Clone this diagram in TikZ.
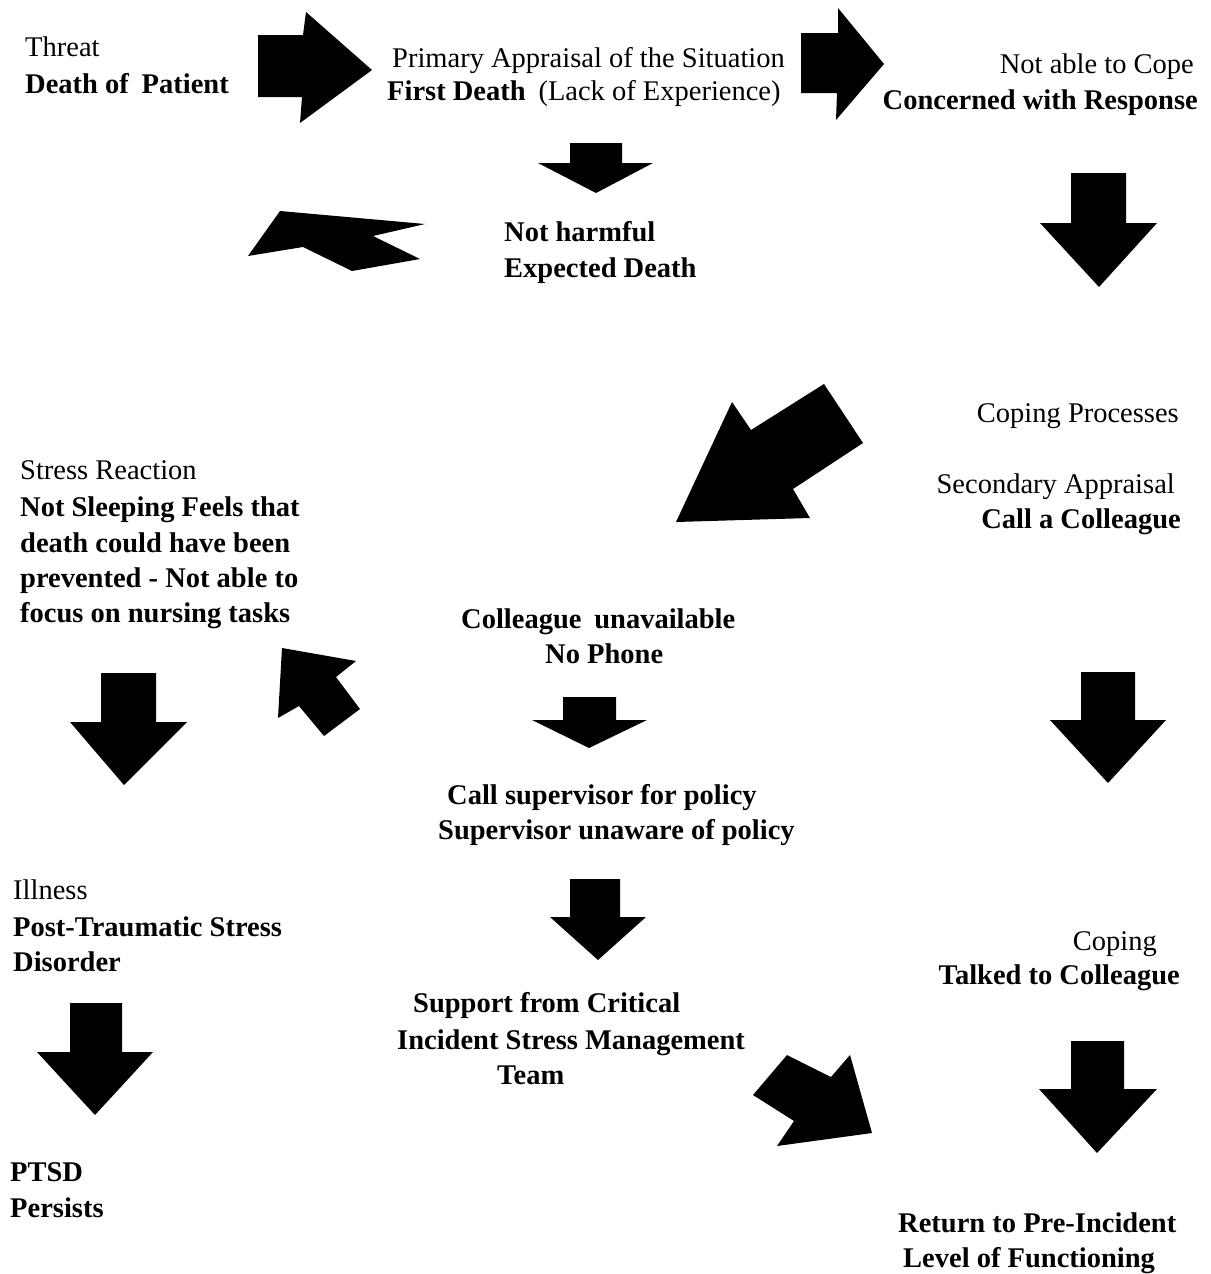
\documentclass[tikz,border=0pt]{standalone}
\usepackage{fontspec}
\setmainfont{Liberation Serif}
\newcommand\diagfs{\fontsize{28.5}{34}\selectfont}
\newcommand\dnarrow[8]{\fill[blk] (#1,#3) -- (#2,#3) -- (#2,#4) -- (#6,#4) -- (#7,#8) -- (#5,#4) -- (#1,#4) -- cycle;}
\tikzset{
  reg/.style={inner sep=0pt, font=\diagfs},
  bld/.style={inner sep=0pt, font=\diagfs\bfseries},
  blk/.style={fill=black, draw=none}
}
\begin{document}
\begin{tikzpicture}[x=1pt,y=-1pt]
\useasboundingbox (0,0) rectangle (1210,1274);
\fill[white] (0,0) rectangle (1210,1274);

% ---- texts ----
\node[reg, anchor=base west] (threat) at (25,56) {Threat};
\node[bld, anchor=base west] (death) at (25,93) {Death of\hspace{0.45em}Patient};

\node[reg, anchor=base west] (prim) at (392,67) {Primary Appraisal of the Situation};
\node[reg, anchor=base west] (first) at (387,100) {\textbf{First Death}\hspace{0.45em}(Lack of Experience)};

\node[reg, anchor=base east] (notable) at (1194,73) {Not able to Cope};
\node[bld, anchor=base east] (concern) at (1198,109) {Concerned with Response};

\node[bld, anchor=base west] (notharm) at (504,241) {Not harmful};
\node[bld, anchor=base west] (expect) at (504,277) {Expected Death};

\node[reg, anchor=base east] (copproc) at (1179,422) {Coping Processes};
\node[reg, anchor=base east] (second) at (1175,493) {Secondary Appraisal};
\node[bld, anchor=base east] (callcol) at (1181,528) {Call a Colleague};

\node[reg, anchor=base west] (stress) at (20,479) {Stress Reaction};
\node[bld, anchor=base west] (st1) at (20,516) {Not Sleeping Feels that};
\node[bld, anchor=base west] (st2) at (20,552) {death could have been};
\node[bld, anchor=base west] (st3) at (20,587) {prevented - Not able to};
\node[bld, anchor=base west] (st4) at (20,622) {focus on nursing tasks};

\node[bld, anchor=base west] (colun) at (461,628) {Colleague\hspace{0.45em}unavailable};
\node[bld, anchor=base west] (nophone) at (545,663) {No Phone};

\node[bld, anchor=base west] (callsup) at (447,804) {Call supervisor for policy};
\node[bld, anchor=base west] (supun) at (438,839) {Supervisor unaware of policy};

\node[reg, anchor=base west] (illness) at (13,899) {Illness};
\node[bld, anchor=base west] (ptsd1) at (13,936) {Post-Traumatic Stress};
\node[bld, anchor=base west] (ptsd2) at (13,971) {Disorder};

\node[bld, anchor=base west] (sup1) at (413,1012) {Support from Critical};
\node[bld, anchor=base west] (sup2) at (397,1049) {Incident Stress Management};
\node[bld, anchor=base west] (sup3) at (497,1084) {Team};

\node[reg, anchor=base east] (coping) at (1157,950) {Coping};
\node[bld, anchor=base east] (talked) at (1180,984) {Talked to Colleague};

\node[bld, anchor=base west] (ptsdA) at (10,1181) {PTSD};
\node[bld, anchor=base west] (ptsdB) at (10,1217) {Persists};

\node[bld, anchor=base west] (ret1) at (898,1232) {Return to Pre-Incident};
\node[bld, anchor=base west] (ret2) at (903,1267) {Level of Functioning};

% ---- right arrows ----
\fill[blk] (258,35) -- (303,35) -- (306,12) -- (372,70) -- (300,123) -- (302,97) -- (258,97) -- cycle;
\fill[blk] (801,33) -- (838,33) -- (838,8) -- (884,64) -- (836,120) -- (837,93) -- (801,93) -- cycle;

% ---- down arrows ----
\dnarrow{570}{622}{143}{163}{538}{653}{596}{193}
\dnarrow{1071}{1126}{173}{223}{1040}{1157}{1099}{287}
\dnarrow{1081}{1135}{672}{720}{1050}{1166}{1108}{783}
\dnarrow{1071}{1124}{1041}{1089}{1039}{1157}{1097}{1153}
\dnarrow{101}{156}{673}{722}{70}{187}{124}{785}
\dnarrow{70}{122}{1003}{1052}{37}{153}{95}{1115}
\dnarrow{563}{616}{697}{720}{532}{647}{589}{748}
\dnarrow{570}{620}{879}{917}{550}{646}{598}{960}

% ---- irregular arrows ----
\fill[blk] (280,211) -- (425,224) -- (373,236) -- (420,259) -- (352,271) -- (303,247) -- (248,256) -- cycle;
\fill[blk] (732,402) -- (751,430) -- (824,384) -- (863,443) -- (793,489) -- (810,518) -- (676,522) -- cycle;
\fill[blk] (282,648) -- (356,661) -- (336,677) -- (360,709) -- (324,736) -- (299,706) -- (278,718) -- cycle;
\fill[blk] (787,1055) -- (831,1077) -- (850,1055) -- (872,1133) -- (777,1146) -- (794,1121) -- (753,1095) -- cycle;
\end{tikzpicture}
\end{document}
